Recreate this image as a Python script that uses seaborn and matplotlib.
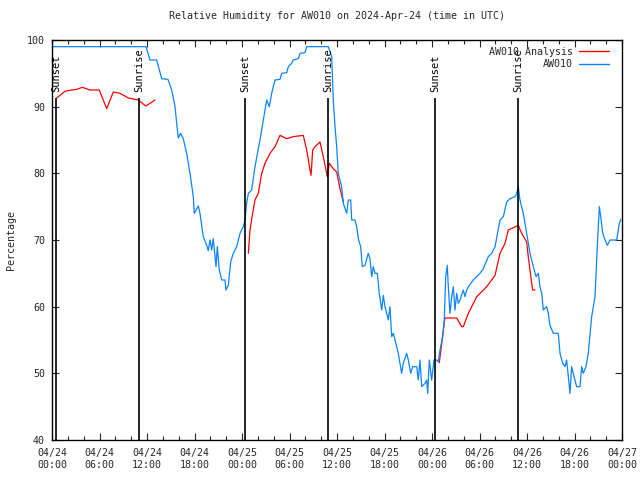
import numpy as np
import pandas as pd
import matplotlib
matplotlib.use("Agg")
import matplotlib.pyplot as plt
import matplotlib.dates as mdates
from matplotlib.lines import Line2D
import seaborn as sns

# ---- data (hours after 2024-04-24 00:00 UTC, relative humidity %) ----
obs_hours = [0.0, 11.87, 12.25, 12.38, 13.22, 13.86, 14.65, 15.12, 15.54, 15.75, 15.95, 16.23, 16.58,
             17.01, 17.43, 17.85, 17.97, 18.48, 18.69, 19.11, 19.54, 19.74, 19.96, 20.17, 20.37,
             20.72, 20.88, 21.13, 21.44, 21.85, 21.98, 22.27, 22.57, 22.90, 23.33, 23.75, 24.16,
             24.38, 24.59, 24.80, 25.22, 25.64, 26.27, 26.90, 27.12, 27.45, 27.75, 28.17, 28.80,
             29.01, 29.65, 29.85, 30.28, 30.48, 31.11, 31.33, 31.96, 32.17, 34.90, 35.33, 35.53,
             35.75, 35.96, 36.16, 36.59, 36.80, 37.22, 37.43, 37.73, 37.86, 38.27, 38.49, 38.69,
             38.99, 39.20, 39.54, 39.95, 40.17, 40.38, 40.58, 40.80, 41.09, 41.34, 41.65, 41.85,
             42.06, 42.48, 42.69, 42.91, 43.11, 43.33, 43.74, 44.17, 44.37, 44.80, 45.01, 45.31,
             45.56, 46.07, 46.27, 46.48, 46.70, 47.12, 47.33, 47.46, 47.66, 47.96, 48.25, 48.59,
             48.80, 49.01, 49.35, 49.55, 49.73, 49.93, 50.06, 50.27, 50.49, 50.69, 50.90, 51.12,
             51.32, 51.54, 51.95, 52.17, 52.38, 52.71, 53.22, 53.65, 54.06, 54.48, 55.11, 55.54,
             55.96, 56.59, 57.01, 57.44, 57.85, 58.48, 58.70, 58.90, 59.11, 59.53, 59.96, 60.38,
             60.80, 61.14, 61.43, 61.64, 61.86, 62.06, 62.48, 62.69, 62.90, 63.32, 63.95, 64.17,
             64.51, 64.80, 65.01, 65.22, 65.43, 65.64, 65.84, 66.27, 66.69, 66.91, 67.11, 67.45,
             67.74, 68.17, 68.59, 68.88, 69.14, 69.31, 69.57, 69.86, 70.15, 70.49, 71.33, 71.66,
             71.87]
obs_rh = [99, 99, 97.5, 97, 97, 94.2, 94.1, 92.5, 90, 87.5, 85.3, 86, 85.2,
          83, 80, 76.5, 74, 75.1, 74, 70.5, 69.2, 68.4, 70, 68.5, 70.2,
          66, 69, 65.5, 64, 64, 62.5, 63.2, 66.7, 68, 69, 71, 72,
          73, 75.5, 77, 77.5, 81, 85, 89.5, 91, 90, 92, 94, 94.1,
          95, 95.1, 96, 96.5, 97, 97.2, 98, 98.1, 99, 99, 97.5, 91,
          87, 84, 80, 78, 75.5, 74, 76, 76, 73, 73, 72, 70.2,
          69, 66, 66.2, 68, 67.2, 64.5, 66, 65, 65, 62, 59.5, 61.7,
          60, 58, 60, 55.5, 56, 55, 53, 50, 51.5, 53, 52, 50,
          51, 51, 49, 52, 48, 48.5, 49, 47, 52, 49, 52, 52,
          51.7, 53.5, 55.5, 58, 64.5, 66.2, 63, 59, 61.5, 63, 59.5, 62,
          60.5, 61, 62.5, 61.5, 62.5, 63.2, 64, 64.5, 65, 65.7, 67.5, 68,
          69, 73, 73.5, 75.7, 76.2, 76.5, 77, 78, 76, 74, 71, 68,
          66, 64.5, 65, 63, 62, 59.5, 60, 59, 57.2, 56, 56, 53,
          51.5, 51, 52, 49.5, 47, 51, 50, 48, 48, 51, 50, 51,
          53, 58.5, 61.5, 69, 75, 73.5, 71, 70, 69.2, 70, 70, 72.5,
          73.1]

ana_hours = [0.59, 1.01, 1.64, 2.49, 3.12, 3.83, 4.80, 5.97, 6.91, 7.74, 8.59, 9.64, 10.90,
             11.20, 11.84, 12.38, 13.01,
             24.80, 25.01, 25.35, 25.64, 26.06, 26.49, 26.90, 27.54, 28.17, 28.80, 29.65, 30.48,
             31.74, 32.17, 32.59, 32.72, 32.93, 33.22, 33.85, 34.27, 34.61, 34.77, 35.02, 35.53,
             35.96, 36.38, 36.80,
             48.92, 49.23, 49.43, 49.64, 51.12, 51.75, 51.95, 52.59, 53.65, 54.91, 55.96, 56.59,
             57.22, 57.64, 58.90, 59.33, 59.96, 60.16, 60.38, 60.59, 60.72, 61.01]
ana_rh = [91.3, 91.7, 92.3, 92.5, 92.6, 92.9, 92.5, 92.5, 89.7, 92.2, 92, 91.3, 91,
          90.7, 90.1, 90.5, 91,
          68, 71.5, 74, 76, 77, 80, 81.5, 83, 84, 85.7, 85.2, 85.5,
          85.7, 83.5, 80.5, 79.7, 83.5, 84, 84.7, 82.5, 80.5, 79.5, 81.5, 80.7,
          80.2, 77.7, 75.7,
          51.6, 54.5, 56.5, 58.3, 58.3, 57, 57, 59, 61.5, 63, 64.7, 68,
          69.5, 71.5, 72.2, 71, 69.7, 67.5, 65.5, 63.5, 62.5, 62.5]
ana_segment = [1] * 17 + [2] * 27 + [3] * 22

sun_hours = [0.50, 10.99, 24.38, 34.86, 48.38, 58.86]
sun_labels = ["Sunset", "Sunrise", "Sunset", "Sunrise", "Sunset", "Sunrise"]

series_names = ["AW010 Analysis", "AW010"]
series_colors = ["#ff0000", "#0a84ff"]
title = "Relative Humidity for AW010 on 2024-Apr-24 (time in UTC)"
ylabel = "Percentage"

# ---- build frames ----
base = pd.Timestamp("2024-04-24 00:00")
obs = pd.DataFrame({"time": base + pd.to_timedelta(obs_hours, unit="h"), "rh": obs_rh})
ana = pd.DataFrame({"time": base + pd.to_timedelta(ana_hours, unit="h"), "rh": ana_rh,
                    "seg": ana_segment})
sun_times = [base + pd.Timedelta(hours=h) for h in sun_hours]

sns.set_style("white")
plt.rcParams["font.family"] = ["DejaVu Sans Mono"]
FS = 7.2

fig = plt.figure(figsize=(6.4, 4.8), dpi=100)
ax = fig.add_axes([52 / 640, 40 / 480, 570 / 640, 400 / 480])

sns.lineplot(data=ana, x="time", y="rh", units="seg", estimator=None, color=series_colors[0],
             linewidth=0.9, ax=ax, sort=False, legend=False)
sns.lineplot(data=obs, x="time", y="rh", color=series_colors[1], linewidth=0.9, ax=ax,
             estimator=None, sort=False, legend=False)

for t, lab in zip(sun_times, sun_labels):
    ax.vlines(t, 40, 91.3, color="black", linewidth=1.2, zorder=5)
    ax.text(t, 92.2, lab, rotation=90, ha="center", va="bottom", fontsize=FS + 0.3,
            color="black")

ax.set_xlim(base, base + pd.Timedelta(days=3))
ax.set_ylim(40, 100)
ax.set_yticks(range(40, 101, 10))
ax.xaxis.set_major_locator(mdates.HourLocator(byhour=[0, 6, 12, 18]))
ax.xaxis.set_major_formatter(mdates.DateFormatter("%m/%d\n%H:%M"))
ax.xaxis.set_minor_locator(mdates.HourLocator(byhour=range(0, 24, 2)))

ax.tick_params(axis="x", which="major", direction="in", length=5, width=0.8,
               labelsize=FS, top=True, bottom=True, pad=6)
ax.tick_params(axis="y", which="major", direction="in", length=5, width=0.8,
               labelsize=FS, right=True, left=True, pad=5)
ax.tick_params(axis="x", which="minor", direction="in", length=3, width=0.8,
               top=True, bottom=True)
for s in ax.spines.values():
    s.set_color("black")
    s.set_linewidth(1.0)

ax.set_xlabel("")
ax.set_ylabel(ylabel, fontsize=FS, labelpad=8)
ax.set_title(title, fontsize=FS, pad=15)

handles = [Line2D([], [], color=c, linewidth=1.0) for c in series_colors]
leg = ax.legend(handles, series_names, loc="upper right", bbox_to_anchor=(0.99, 1.0),
                frameon=False, markerfirst=False, fontsize=FS, handlelength=3.0,
                handletextpad=0.6, labelspacing=0.25, borderaxespad=0.3)

fig.savefig("out.png", dpi=100)
